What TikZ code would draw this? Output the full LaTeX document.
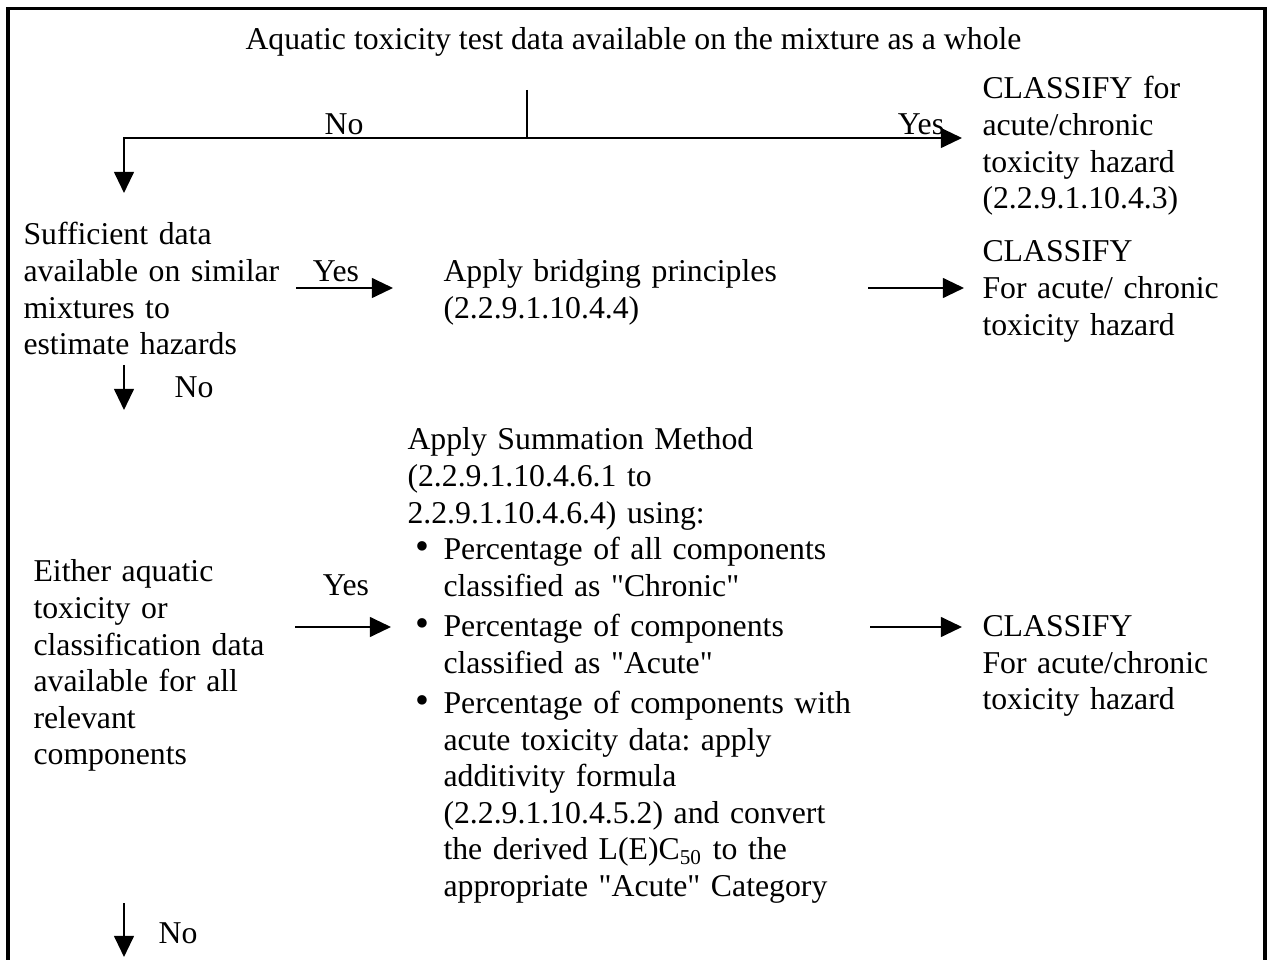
\documentclass[tikz,border=0pt]{standalone}
\usepackage{fontspec}
\setmainfont{Liberation Serif}[Ligatures=TeXOff]
\usetikzlibrary{arrows.meta}
\frenchspacing

\begin{document}
\begin{tikzpicture}[x=0.37795pt, y=-0.37795pt,
    txt/.style={inner sep=0pt, font=\fontsize{12}{13.8}\selectfont},
    blk/.style={txt, anchor=base west, align=left, text width=9cm},
    lbl/.style={txt, anchor=base},
    dot/.style={inner sep=0pt, anchor=base, font=\fontsize{15}{15}\selectfont},
    wire/.style={line width=0.75pt},
    arr/.style={wire, -{Triangle[length=8pt, width=7.5pt]}},
    frame/.style={line width=1.15pt}]

  \useasboundingbox (0, 0) rectangle (1270, 960);
  \draw[frame] (8, 962) -- (8, 8.5) -- (1265, 8.5) -- (1265, 962);

  % whole mixture
  \node[lbl] (whole) at (633.5, 50) {Aquatic toxicity test data available on the mixture as a whole};
  \coordinate (stem) at (527, 90);
  \coordinate (split) at (527, 138);
  \coordinate (corner) at (124, 138);
  \coordinate (downa) at (124, 193);
  \coordinate (yesa) at (962, 138);
  \draw[wire] (stem) -- (split);
  \draw[arr] (split) -- (corner) -- (downa);
  \draw[arr] (split) -- (yesa);
  \node[lbl] (noa) at (344, 135) {No};
  \node[lbl] (yeslbla) at (921, 135) {Yes};
  \node[blk] (clsa) at (982, 99) {CLASSIFY for\\acute/chronic\\toxicity hazard\\(2.2.9.1.10.4.3)};

  % similar mixtures
  \node[blk] (similar) at (23, 245) {Sufficient data\\available on similar\\mixtures to\\estimate hazards};
  \node[blk] (bridge) at (443, 282) {Apply bridging principles\\(2.2.9.1.10.4.4)};
  \node[blk] (clsb) at (982, 262) {CLASSIFY\\For acute/ chronic\\toxicity hazard};
  \coordinate (yesbs) at (296, 288);
  \coordinate (yesbe) at (393, 288);
  \coordinate (clsbs) at (868, 288);
  \coordinate (clsbe) at (964, 288);
  \draw[arr] (yesbs) -- (yesbe);
  \draw[arr] (clsbs) -- (clsbe);
  \node[lbl] (yeslblb) at (336, 282) {Yes};
  \coordinate (downbs) at (124, 365);
  \coordinate (downbe) at (124, 410);
  \draw[arr] (downbs) -- (downbe);
  \node[lbl] (nob) at (194, 398) {No};

  % all components
  \node[blk] (comps) at (33, 582) {Either aquatic\\toxicity or\\classification data\\available for all\\relevant\\components};
  \node[blk] (summ) at (407, 450) {Apply Summation Method\\(2.2.9.1.10.4.6.1 to\\2.2.9.1.10.4.6.4) using:};
  \node[dot] (dota) at (422, 559.5) {\textbullet};
  \node[blk] (itema) at (443, 559.5) {Percentage of all components\\classified as "Chronic"};
  \node[dot] (dotb) at (422, 636.5) {\textbullet};
  \node[blk] (itemb) at (443, 636.5) {Percentage of components\\classified as "Acute"};
  \node[dot] (dotc) at (422, 713.5) {\textbullet};
  \node[blk] (itemc) at (443, 713.5) {Percentage of components with\\acute toxicity data: apply\\additivity formula\\(2.2.9.1.10.4.5.2) and convert\\the derived L(E)C\textsubscript{50} to the\\appropriate "Acute" Category};
  \node[blk] (clsc) at (982, 636.5) {CLASSIFY\\For acute/chronic\\toxicity hazard};
  \coordinate (yescs) at (295, 627);
  \coordinate (yesce) at (391, 627);
  \coordinate (clscs) at (870, 627);
  \coordinate (clsce) at (962, 627);
  \draw[arr] (yescs) -- (yesce);
  \draw[arr] (clscs) -- (clsce);
  \node[lbl] (yeslblc) at (346, 596) {Yes};
  \coordinate (downcs) at (124, 903);
  \coordinate (downce) at (124, 957);
  \draw[arr] (downcs) -- (downce);
  \node[lbl] (noc) at (178, 943) {No};

\end{tikzpicture}
\end{document}
